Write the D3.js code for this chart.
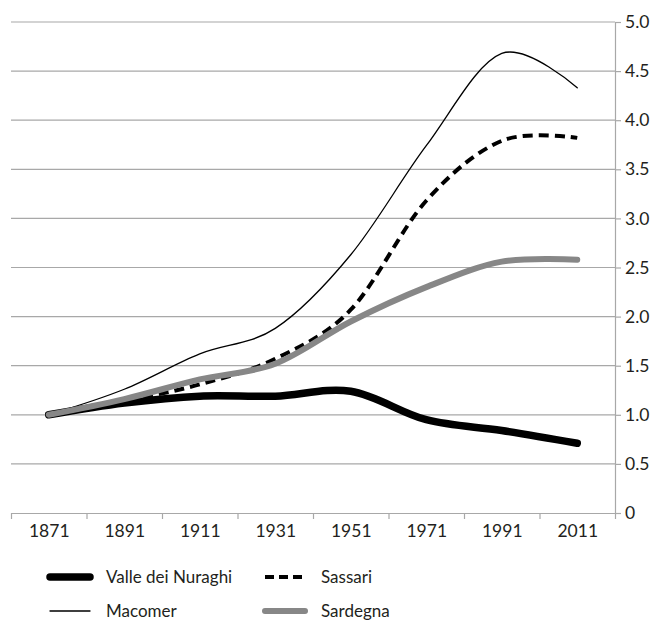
<!DOCTYPE html>
<html>
<head>
<meta charset="utf-8">
<script src="https://cdn.jsdelivr.net/npm/d3@7"></script>
<style>
  body { margin: 0; background: #fff; }
  text { font-family: Lato, "Noto Sans", sans-serif; fill: #231f20; }
</style>
</head>
<body>
<svg id="drawing_region"></svg>
<script>
// index values (1871 = 1)
const years = [1871, 1891, 1911, 1931, 1951, 1971, 1991, 2011];
const valleDeiNuraghi = [1.0, 1.12, 1.19, 1.19, 1.24, 0.95, 0.84, 0.71];
const macomer = [1.0, 1.26, 1.62, 1.88, 2.63, 3.74, 4.68, 4.33];
const sassari = [1.0, 1.14, 1.31, 1.57, 2.07, 3.18, 3.79, 3.82];
const sardegna = [1.0, 1.16, 1.36, 1.52, 1.95, 2.30, 2.56, 2.58];
const yTicks = [0, 0.5, 1, 1.5, 2, 2.5, 3, 3.5, 4, 4.5, 5];

const series = [
  { name: 'Valle dei Nuraghi', values: valleDeiNuraghi, color: '#000', width: 7.5, dash: null },
  { name: 'Sassari', values: sassari, color: '#000', width: 4, dash: '10,6' },
  { name: 'Macomer', values: macomer, color: '#000', width: 1.3, dash: null },
  { name: 'Sardegna', values: sardegna, color: '#878787', width: 6, dash: null }
];

const config = {
  width: 653,
  height: 621,
  margin: { top: 22, right: 38, bottom: 108, left: 11 }
};

const svg = d3.select('#drawing_region')
    .attr('width', config.width)
    .attr('height', config.height);

const inner_width = config.width - config.margin.left - config.margin.right;
const inner_height = config.height - config.margin.top - config.margin.bottom;

const chart = svg.append('g')
    .attr('transform', `translate(${config.margin.left}, ${config.margin.top})`);

// each label sits in the middle of a 20-year band
const xscale = d3.scaleLinear()
    .domain([years[0] - 10, years[years.length - 1] + 10])
    .range([0, inner_width]);

const yscale = d3.scaleLinear()
    .domain([0, 5])
    .range([inner_height, 0]);

// horizontal grid
chart.append('g')
    .selectAll('line')
    .data(yTicks.filter(d => d > 0))
    .join('line')
    .attr('x1', 0)
    .attr('x2', inner_width)
    .attr('y1', d => yscale(d))
    .attr('y2', d => yscale(d))
    .attr('stroke', '#a8a8a8')
    .attr('stroke-width', 1.2);

// x axis: marks at band edges, labels at band centres
const edges = years.map(d => d - 10).concat([years[years.length - 1] + 10]);
const xaxis_marks = chart.append('g')
    .attr('transform', `translate(0, ${inner_height})`)
    .call(d3.axisBottom(xscale).tickValues(edges).tickSize(6).tickSizeOuter(0).tickFormat(''));
const xaxis_labels = chart.append('g')
    .attr('transform', `translate(0, ${inner_height})`)
    .call(d3.axisBottom(xscale).tickValues(years).tickSize(0).tickPadding(12).tickFormat(d3.format('d')));
xaxis_labels.select('.domain').remove();

// y axis on the right
const yaxis_group = chart.append('g')
    .attr('transform', `translate(${inner_width}, 0)`)
    .call(d3.axisRight(yscale).tickValues(yTicks).tickSize(6).tickSizeOuter(0).tickPadding(4)
      .tickFormat(d => d === 0 ? '0' : d3.format('.1f')(d)));

chart.selectAll('.domain, .tick line')
    .attr('stroke', '#a8a8a8')
    .attr('stroke-width', 1.2);
chart.selectAll('.tick text')
    .attr('font-size', 17.5)
    .attr('fill', '#231f20');

const line = d3.line()
    .x((d, i) => xscale(years[i]))
    .y(d => yscale(d))
    .curve(d3.curveCatmullRom.alpha(0));

chart.append('g')
    .selectAll('path')
    .data(series)
    .join('path')
    .attr('d', d => line(d.values))
    .attr('fill', 'none')
    .attr('stroke', d => d.color)
    .attr('stroke-width', d => d.width)
    .attr('stroke-dasharray', d => d.dash)
    .attr('stroke-linecap', d => d.dash ? 'butt' : 'round');

// legend, two columns
const legend = svg.append('g')
    .selectAll('g')
    .data(series)
    .join('g')
    .attr('transform', (d, i) => `translate(${i % 2 === 0 ? 50 : 265}, ${i < 2 ? 577 : 611})`);

legend.append('line')
    .attr('x1', 0)
    .attr('x2', 40)
    .attr('stroke', d => d.color)
    .attr('stroke-width', d => d.width)
    .attr('stroke-dasharray', d => d.dash ? '9,5' : null)
    .attr('stroke-linecap', d => d.dash ? 'butt' : 'round');

legend.append('text')
    .attr('x', 56)
    .attr('dy', '0.35em')
    .attr('font-size', 17)
    .text(d => d.name);
</script>
</body>
</html>
